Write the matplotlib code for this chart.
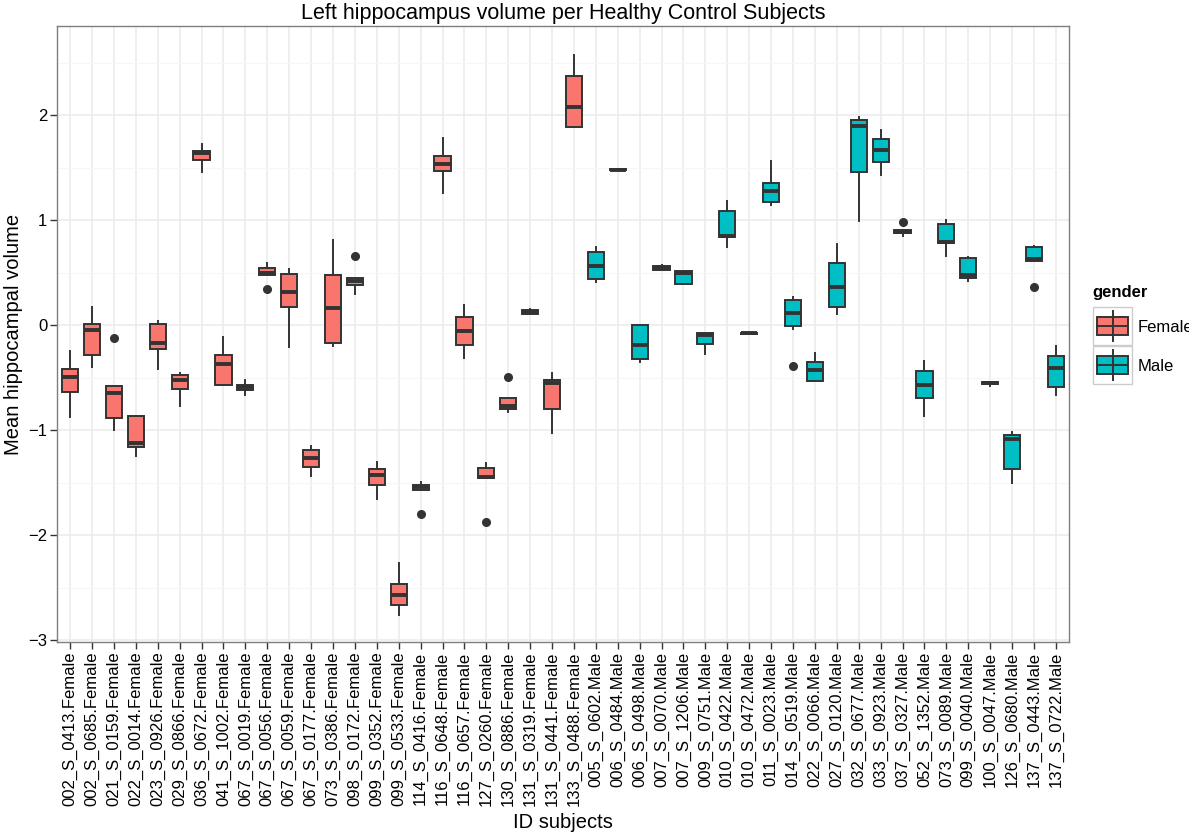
import matplotlib
matplotlib.use("Agg")
import matplotlib.pyplot as plt
from matplotlib.patches import Rectangle

plt.rcParams['font.family'] = ['Liberation Sans', 'DejaVu Sans']

# subjects in plotting order (female first, then male)
subjects = [
    '002_S_0413', '002_S_0685', '021_S_0159', '022_S_0014', '023_S_0926', '029_S_0866',
    '036_S_0672', '041_S_1002', '067_S_0019', '067_S_0056', '067_S_0059', '067_S_0177',
    '073_S_0386', '098_S_0172', '099_S_0352', '099_S_0533', '114_S_0416', '116_S_0648',
    '116_S_0657', '127_S_0260', '130_S_0886', '131_S_0319', '131_S_0441', '133_S_0488',
    '005_S_0602', '006_S_0484', '006_S_0498', '007_S_0070', '007_S_1206', '009_S_0751',
    '010_S_0422', '010_S_0472', '011_S_0023', '014_S_0519', '022_S_0066', '027_S_0120',
    '032_S_0677', '033_S_0923', '037_S_0327', '052_S_1352', '073_S_0089', '099_S_0040',
    '100_S_0047', '126_S_0680', '137_S_0443', '137_S_0722',
]
gender = ['Female'] * 24 + ['Male'] * 22

# box statistics
q1 = [-0.64, -0.29, -0.885, -1.16, -0.23, -0.61, 1.568, -0.574, -0.62, 0.479, 0.168, -1.356,
      -0.171, 0.384, -1.524, -2.663, -1.568, 1.463, -0.19, -1.457, -0.80, 0.108, -0.803, 1.889,
      0.438, 1.475, -0.324, 0.524, 0.387, -0.181, 0.841, -0.083, 1.168, -0.01, -0.53, 0.171,
      1.457, 1.549, 0.873, -0.695, 0.778, 0.451, -0.557, -1.371, 0.613, -0.59]
med = [-0.495, -0.05, -0.645, -1.127, -0.175, -0.52, 1.635, -0.371, -0.594, 0.498, 0.314, -1.264,
       0.159, 0.416, -1.432, -2.571, -1.546, 1.536, -0.054, -1.444, -0.771, 0.127, -0.556, 2.076,
       0.562, 1.479, -0.19, 0.543, 0.492, -0.092, 0.851, -0.079, 1.273, 0.111, -0.429, 0.359,
       1.895, 1.67, 0.889, -0.575, 0.79, 0.473, -0.549, -1.089, 0.632, -0.41]
q3 = [-0.42, 0.005, -0.58, -0.867, 0.013, -0.48, 1.654, -0.283, -0.571, 0.546, 0.489, -1.19,
      0.479, 0.451, -1.375, -2.47, -1.524, 1.613, 0.073, -1.365, -0.692, 0.146, -0.527, 2.374,
      0.698, 1.483, 0.0, 0.559, 0.514, -0.073, 1.083, -0.075, 1.352, 0.235, -0.352, 0.587,
      1.952, 1.775, 0.905, -0.441, 0.962, 0.638, -0.541, -1.048, 0.74, -0.298]
whis_lo = [-0.88, -0.40, -1.0, -1.25, -0.42, -0.77, 1.454, -0.574, -0.667, 0.479, -0.212, -1.435,
           -0.20, 0.295, -1.654, -2.765, -1.568, 1.257, -0.311, -1.457, -0.829, 0.105, -1.032, 1.889,
           0.406, 1.475, -0.349, 0.52, 0.387, -0.276, 0.74, -0.083, 1.14, -0.041, -0.53, 0.105,
           0.987, 1.432, 0.851, -0.863, 0.66, 0.422, -0.581, -1.508, 0.613, -0.67]
whis_hi = [-0.25, 0.17, -0.58, -0.867, 0.035, -0.46, 1.724, -0.114, -0.524, 0.587, 0.533, -1.156,
           0.81, 0.451, -1.308, -2.263, -1.495, 1.778, 0.193, -1.314, -0.692, 0.15, -0.454, 2.571,
           0.74, 1.483, 0.0, 0.57, 0.514, -0.073, 1.181, -0.075, 1.559, 0.27, -0.27, 0.774,
           1.984, 1.854, 0.905, -0.34, 0.997, 0.645, -0.541, -1.016, 0.752, -0.20]
outliers = [[], [], [-0.12], [], [], [], [], [], [], [0.343], [], [],
            [], [0.654], [], [], [-1.797], [], [], [-1.873], [-0.498], [], [], [],
            [], [], [], [], [], [], [], [], [], [-0.394], [], [],
            [], [], [0.984], [], [], [], [], [], [0.362], []]

colors = {'Female': '#F8766D', 'Male': '#00BFC4'}
edge = '#333333'

W, H = 1189, 834
fig = plt.figure(figsize=(W / 100, H / 100), dpi=100)
ax = fig.add_axes([57 / W, 1 - 642 / H, (1069 - 57) / W, (642 - 26) / H])

stats = []
for i in range(len(subjects)):
    stats.append(dict(med=med[i], q1=q1[i], q3=q3[i], whislo=whis_lo[i],
                      whishi=whis_hi[i], fliers=outliers[i]))

positions = list(range(1, len(subjects) + 1))
bp = ax.bxp(stats, positions=positions, widths=0.74, patch_artist=True, showcaps=False,
            boxprops=dict(edgecolor=edge, linewidth=1.4),
            medianprops=dict(color=edge, linewidth=2.8, solid_capstyle='butt'),
            whiskerprops=dict(color=edge, linewidth=1.4),
            flierprops=dict(marker='o', markerfacecolor=edge, markeredgecolor=edge,
                            markersize=5.5, linestyle='none'),
            zorder=3)
for patch, g in zip(bp['boxes'], gender):
    patch.set_facecolor(colors[g])

ax.set_xlim(0.4, len(subjects) + 0.6)
ax.set_ylim(-3.019, 2.848)
ax.set_yticks([-3, -2, -1, 0, 1, 2])
ax.set_yticks([-2.5, -1.5, -0.5, 0.5, 1.5, 2.5], minor=True)
ax.set_yticklabels(['\u22123', '\u22122', '\u22121', '0', '1', '2'], fontsize=12)
ax.set_xticks(positions)
ax.set_xticklabels([f'{s}.{g}' for s, g in zip(subjects, gender)], rotation=90, fontsize=12)

ax.grid(True, which='major', color='#EBEBEB', linewidth=1.1, zorder=0)
ax.grid(True, which='minor', axis='y', color='#F6F6F6', linewidth=0.8, zorder=0)
ax.set_axisbelow(True)
ax.tick_params(axis='both', which='major', length=5, width=1.0, color=edge, pad=2)
ax.tick_params(axis='y', which='minor', length=0)
for sp in ax.spines.values():
    sp.set_color('#7F7F7F')
    sp.set_linewidth(1.0)

fig.text(563 / W, 1 - 14 / H, 'Left hippocampus volume per Healthy Control Subjects',
         ha='center', va='center', fontsize=15.5)
fig.text(563 / W, 1 - 822 / H, 'ID subjects', ha='center', va='center', fontsize=14.5)
fig.text(14 / W, 1 - 334 / H, 'Mean hippocampal volume', ha='center', va='center',
         rotation=90, fontsize=14.5)

# legend drawn in pixel coordinates
lax = fig.add_axes([0, 0, 1, 1])
lax.set_xlim(0, W)
lax.set_ylim(H, 0)
lax.axis('off')
lax.patch.set_alpha(0)
lax.text(1092, 293, 'gender', fontsize=12, fontweight='bold', va='center', ha='left')
for k, g in enumerate(['Female', 'Male']):
    y0 = 307 + k * 39
    lax.add_patch(Rectangle((1093, y0), 39, 38, facecolor='white', edgecolor='#CCCCCC',
                            linewidth=1.0))
    cy = y0 + 19
    lax.plot([1112.5, 1112.5], [cy - 15, cy + 15], color=edge, linewidth=1.4)
    lax.add_patch(Rectangle((1097, cy - 9), 31, 18, facecolor=colors[g], edgecolor=edge,
                            linewidth=1.4))
    lax.plot([1097, 1128], [cy, cy], color=edge, linewidth=1.4)
    lax.text(1138, cy + 1, g, fontsize=12, va='center', ha='left')

fig.savefig('out.png', dpi=100)
